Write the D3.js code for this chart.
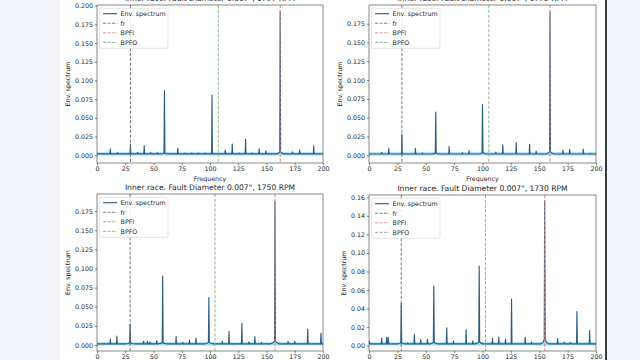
<!DOCTYPE html>
<html><head><meta charset="utf-8">
<script src="https://cdn.jsdelivr.net/npm/d3@7"></script>
<style>
html,body{margin:0;padding:0;background:#f3f5fa;}
svg{display:block;}
text{font-family:"DejaVu Sans",sans-serif;}
</style></head>
<body>
<svg id="c" width="640" height="360"></svg>
<script>
// ---------- data ----------
const rpm = [1797, 1772, 1750, 1730];
const frLine   = [29.6, 29.0, 29.3, 28.4];
const bpfoLine = [107.3, 105.6, 104.4, 102.6];
const bpfiLine = [162.1, 159.5, 157.5, 154.8];
const baseLevel = [0.0018, 0.0018, 0.0016, 0.0020];

const peakFreq1797 = [11.8, 18.2, 29.6, 35.9, 41.8, 47.6, 53.5, 59.7, 71.5, 77.9, 83.8, 89.7, 95.6, 101.8, 113.5, 119.7, 125.6, 131.5, 137.4, 143.5, 149.4, 162.1, 173.0, 179.4, 191.8];
const peakAmp1797  = [0.0085, 0.0035, 0.0152, 0.004, 0.013, 0.0035, 0.0035, 0.0866, 0.0094, 0.003, 0.003, 0.003, 0.003, 0.0804, 0.007, 0.015, 0.003, 0.0214, 0.003, 0.0085, 0.006, 0.1924, 0.0045, 0.007, 0.0125];

const peakFreq1772 = [11.2, 17.4, 29.0, 40.9, 47.0, 58.8, 70.6, 82.3, 88.2, 100.0, 111.8, 117.9, 129.7, 141.5, 147.3, 159.5, 170.9, 176.8, 188.8, 195.0];
const peakAmp1772  = [0.004, 0.0093, 0.028, 0.0093, 0.003, 0.0576, 0.0115, 0.0035, 0.006, 0.0674, 0.0044, 0.014, 0.0168, 0.0146, 0.0058, 0.1906, 0.007, 0.008, 0.008, 0.0025];

const peakFreq1750 = [11.8, 17.6, 29.3, 41.2, 44.7, 47.0, 52.9, 58.1, 70.0, 75.9, 81.8, 87.6, 99.0, 110.9, 116.8, 128.2, 134.4, 139.7, 145.6, 157.5, 169.1, 175.0, 186.5, 198.2];
const peakAmp1750  = [0.0078, 0.0118, 0.027, 0.005, 0.0048, 0.004, 0.0057, 0.0901, 0.0109, 0.0035, 0.0065, 0.0091, 0.0618, 0.005, 0.0178, 0.0283, 0.004, 0.0109, 0.0035, 0.188, 0.0048, 0.0048, 0.0209, 0.0152];

const peakFreq1730 = [0.3, 11.2, 15.6, 17.0, 28.4, 34.1, 40.0, 45.6, 51.5, 57.1, 68.5, 74.4, 85.6, 91.5, 97.1, 108.8, 114.4, 120.3, 125.6, 137.6, 143.2, 154.8, 166.2, 172.0, 177.4, 183.2, 194.4];
const peakAmp1730  = [0.005, 0.0083, 0.009, 0.009, 0.0457, 0.003, 0.0122, 0.0068, 0.0068, 0.0644, 0.0194, 0.0047, 0.0173, 0.0054, 0.086, 0.008, 0.0094, 0.0068, 0.0504, 0.009, 0.004, 0.1565, 0.0076, 0.004, 0.0036, 0.0367, 0.0162];

// broadened bases (skirts) under the strongest peaks
const humpFreq = [[59.7, 162.1], [58.8, 100.0, 159.5], [29.3, 58.1, 99.0, 157.5], [28.4, 57.1, 97.1, 154.8]];
const humpAmp  = [[0.0028, 0.0045], [0.003, 0.0035, 0.005], [0.0027, 0.003, 0.0035, 0.0055], [0.003, 0.0035, 0.004, 0.0065]];

const yLimLow  = [-0.0103, -0.0102, -0.0078, -0.0057];
const yLimHigh = [0.2009, 0.1998, 0.1972, 0.1625];
const yTicks = [
  [0, 0.025, 0.05, 0.075, 0.1, 0.125, 0.15, 0.175, 0.2],
  [0, 0.025, 0.05, 0.075, 0.1, 0.125, 0.15, 0.175],
  [0, 0.025, 0.05, 0.075, 0.1, 0.125, 0.15, 0.175],
  [0, 0.02, 0.04, 0.06, 0.08, 0.1, 0.12, 0.14, 0.16]
];
const yFormat = [".3f", ".3f", ".3f", ".2f"];
const xTicks = [0, 25, 50, 75, 100, 125, 150, 175, 200];
const legendLabels = ["Env. spectrum", "fr", "BPFI", "BPFO"];

const peakFreqs = [peakFreq1797, peakFreq1772, peakFreq1750, peakFreq1730];
const peakAmps  = [peakAmp1797, peakAmp1772, peakAmp1750, peakAmp1730];

// ---------- layout ----------
const svg = d3.select("#c");
svg.append("rect").attr("x", 60).attr("y", 0).attr("width", 545).attr("height", 360).attr("fill", "#ffffff");
svg.append("rect").attr("x", 605).attr("y", 0).attr("width", 2).attr("height", 360).attr("fill", "#3a3a3a");

const boxes = [
  {x0: 97, x1: 323, y0: 5, y1: 163},
  {x0: 369, x1: 596, y0: 5, y1: 163},
  {x0: 97, x1: 323, y0: 194, y1: 351},
  {x0: 369, x1: 596, y0: 195, y1: 351}
];
const ylabelX = [67.5, 339.8, 67.5, 343.5];

const lineColor = "#2d5c82";
const frColor = "#6a6a6a";
const bpfiColor = "#d98486";
const bpfoColor = "#84ad86";
const fs = 6.3;

function buildSpectrum(i) {
  const base = baseLevel[i];
  const pts = [];
  const ev = peakFreqs[i].map((f, k) => ({f, a: peakAmps[i][k]}));
  ev.sort((a, b) => a.f - b.f);
  pts.push([0, base]);
  ev.forEach(p => {
    const hk = humpFreq[i].indexOf(p.f);
    if (hk >= 0) {
      const h = humpAmp[i][hk];
      pts.push([p.f - 3.5, base], [p.f - 1.5, base + 0.4 * (h - base)], [p.f - 0.4, h], [p.f, p.a], [p.f + 0.4, h], [p.f + 1.5, base + 0.4 * (h - base)], [p.f + 3.5, base]);
    } else {
      pts.push([Math.max(0, p.f - 0.35), base], [p.f, p.a], [p.f + 0.35, base]);
    }
  });
  pts.push([200, base]);
  return pts;
}

boxes.forEach((b, i) => {
  const x = d3.scaleLinear().domain([0, 200]).range([b.x0, b.x1]);
  const y = d3.scaleLinear().domain([yLimLow[i], yLimHigh[i]]).range([b.y1, b.y0]);
  const g = svg.append("g");
  const clipId = "clip" + i;
  g.append("clipPath").attr("id", clipId).append("rect")
    .attr("x", b.x0).attr("y", b.y0).attr("width", b.x1 - b.x0).attr("height", b.y1 - b.y0);

  const plot = g.append("g").attr("clip-path", `url(#${clipId})`);
  // noise band at baseline
  plot.append("line").attr("x1", x(0)).attr("x2", x(200))
    .attr("y1", y(baseLevel[i])).attr("y2", y(baseLevel[i]))
    .attr("stroke", "#8fd4f2").attr("stroke-width", 3.2).attr("opacity", 0.85);
  const line = d3.line().x(d => x(d[0])).y(d => y(d[1]));
  plot.append("path").datum(buildSpectrum(i)).attr("d", line)
    .attr("fill", "none").attr("stroke", lineColor).attr("stroke-width", 1.15).attr("stroke-linejoin", "round");

  const vlines = [[frLine[i], frColor], [bpfiLine[i], bpfiColor], [bpfoLine[i], bpfoColor]];
  vlines.forEach(([f, c]) => {
    plot.append("line").attr("x1", x(f)).attr("x2", x(f)).attr("y1", b.y0).attr("y2", b.y1)
      .attr("stroke", c).attr("stroke-width", 0.9).attr("stroke-dasharray", "3.3,1.5");
  });

  // axes
  const xa = d3.axisBottom(x).tickValues(xTicks).tickSize(2.2).tickPadding(1.5).tickFormat(d3.format("d"));
  const gx = g.append("g").attr("transform", `translate(0,${b.y1})`).call(xa);
  const ya = d3.axisLeft(y).tickValues(yTicks[i]).tickSize(2.2).tickPadding(1.8).tickFormat(d3.format(yFormat[i]));
  const gy = g.append("g").attr("transform", `translate(${b.x0},0)`).call(ya);
  [gx, gy].forEach(ax => {
    ax.select(".domain").remove();
    ax.selectAll(".tick line").attr("stroke", "#333").attr("stroke-width", 0.6);
    ax.selectAll("text").attr("fill", "#262626").style("font-size", fs + "px").style("font-family", "DejaVu Sans");
  });
  g.append("rect").attr("x", b.x0).attr("y", b.y0).attr("width", b.x1 - b.x0).attr("height", b.y1 - b.y0)
    .attr("fill", "none").attr("stroke", "#3a3a3a").attr("stroke-width", 0.6);

  // title & labels
  const cx = (b.x0 + b.x1) / 2;
  g.append("text").attr("x", cx).attr("y", b.y0 - 4.5).attr("text-anchor", "middle")
    .attr("fill", "#1e1e1e").style("font-size", "7.6px")
    .text(`Inner race. Fault Diameter 0.007", ${rpm[i]} RPM`);
  g.append("text").attr("x", cx).attr("y", b.y1 + 17.5).attr("text-anchor", "middle")
    .attr("fill", "#262626").style("font-size", fs + "px").text("Frequency");
  g.append("text").attr("transform", `translate(${ylabelX[i]},${(b.y0 + b.y1) / 2}) rotate(-90)`)
    .attr("text-anchor", "middle").attr("dominant-baseline", "central")
    .attr("fill", "#262626").style("font-size", fs + "px").text("Env. spectrum");

  // legend
  const lx = b.x0 + 2.6, ly = b.y0 + 3.3;
  g.append("rect").attr("x", lx).attr("y", ly).attr("width", 68.4).attr("height", 40).attr("rx", 1.5)
    .attr("fill", "rgba(255,255,255,0.85)").attr("stroke", "#d2d2d2").attr("stroke-width", 0.6);
  const legendStyles = [[lineColor, null, 1.15], [frColor, "3,1.5", 0.9], [bpfiColor, "3,1.5", 0.9], [bpfoColor, "3,1.5", 0.9]];
  legendLabels.forEach((lab, k) => {
    const yy = ly + 5.4 + k * 9.55;
    const [c, dash, w] = legendStyles[k];
    const ln = g.append("line").attr("x1", lx + 3.5).attr("x2", lx + 17.5).attr("y1", yy).attr("y2", yy)
      .attr("stroke", c).attr("stroke-width", w);
    if (dash) ln.attr("stroke-dasharray", dash);
    g.append("text").attr("x", lx + 21).attr("y", yy).attr("dominant-baseline", "central")
      .attr("fill", "#262626").style("font-size", fs + "px").text(lab);
  });
});
</script>
</body></html>
